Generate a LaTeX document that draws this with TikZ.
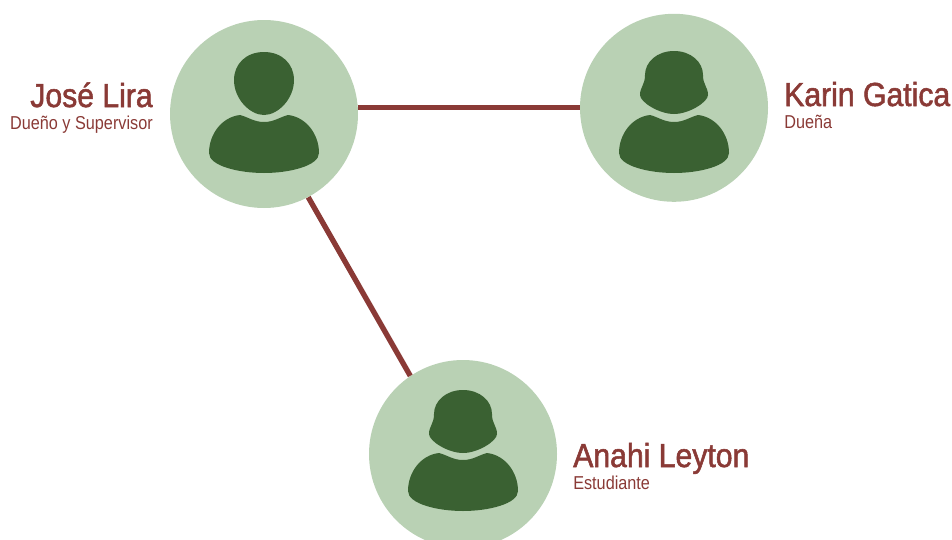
\documentclass[tikz,border=0pt]{standalone}
\usepackage{fontspec}
\setmainfont[FakeStretch=0.87]{Liberation Sans}
\newfontfamily\namefont[FakeStretch=0.905,FakeBold=1.6]{Liberation Sans}
\definecolor{circlegreen}{HTML}{B9D1B4}
\definecolor{icongreen}{HTML}{3A6132}
\definecolor{linkred}{HTML}{8A3A36}
\tikzset{
  person/.style={circle,fill=circlegreen,minimum size=141pt,inner sep=0pt},
  link/.style={draw=linkred,line width=4pt},
  namelabel/.style={text=linkred,font=\namefont\fontsize{25}{25}\selectfont,inner sep=0pt},
  rolelabel/.style={text=linkred,font=\fontsize{14}{15}\selectfont,inner sep=0pt},
  pics/bodyicon/.style={code={
    \fill[icongreen] (-24,1) .. controls (-16,3) and (-10,8) .. (0,8)
      .. controls (10,8) and (16,3) .. (24,1)
      .. controls (42,3) and (55,20) .. (55,39)
      .. controls (55,52) and (25,59) .. (0,59)
      .. controls (-25,59) and (-55,52) .. (-55,39)
      .. controls (-55,20) and (-42,3) .. (-24,1) -- cycle;
  }},
  pics/manhead/.style={code={
    \fill[icongreen] (0,-62) .. controls (18,-62) and (30,-50) .. (30,-34)
      .. controls (30,-15) and (14,1) .. (0,1)
      .. controls (-14,1) and (-30,-15) .. (-30,-34)
      .. controls (-30,-50) and (-18,-62) .. (0,-62) -- cycle;
  }},
  pics/womanhead/.style={code={
    \fill[icongreen] (0,-56) .. controls (17,-56) and (29,-45) .. (29,-32)
      .. controls (29,-22) and (34,-20) .. (34,-12)
      .. controls (34,-5) and (15,7) .. (0,7)
      .. controls (-15,7) and (-34,-5) .. (-34,-12)
      .. controls (-34,-20) and (-29,-22) .. (-29,-32)
      .. controls (-29,-45) and (-17,-56) .. (0,-56) -- cycle;
  }}
}
\begin{document}
\begin{tikzpicture}[x=0.75pt,y=-0.75pt]
  \useasboundingbox (0,0) rectangle (952,539);
  \node[person] (jose) at (264,114) {};
  \node[person] (karin) at (674,107.8) {};
  \node[person] (anahi) at (463,454) {};
  \draw[link] (jose.east |- karin.west) -- (karin.west);
  \draw[link] (jose.-62.4) -- (anahi.124.5);
  \pic at (264,114) {manhead};
  \pic at (264,114) {bodyicon};
  \pic at (674,107) {womanhead};
  \pic at (674,114) {bodyicon};
  \pic at (463,446) {womanhead};
  \pic at (463,452) {bodyicon};
  \node[namelabel,anchor=base east] (josename) at (153,107) {José Lira};
  \node[rolelabel,anchor=base east] (joserole) at (153,129) {Dueño y Supervisor};
  \node[namelabel,anchor=base west] (karinname) at (784,106) {Karin Gatica};
  \node[rolelabel,anchor=base west] (karinrole) at (784,128) {Dueña};
  \node[namelabel,anchor=base west] (anahiname) at (573,467) {Anahi Leyton};
  \node[rolelabel,anchor=base west] (anahirole) at (573,489) {Estudiante};
\end{tikzpicture}
\end{document}
